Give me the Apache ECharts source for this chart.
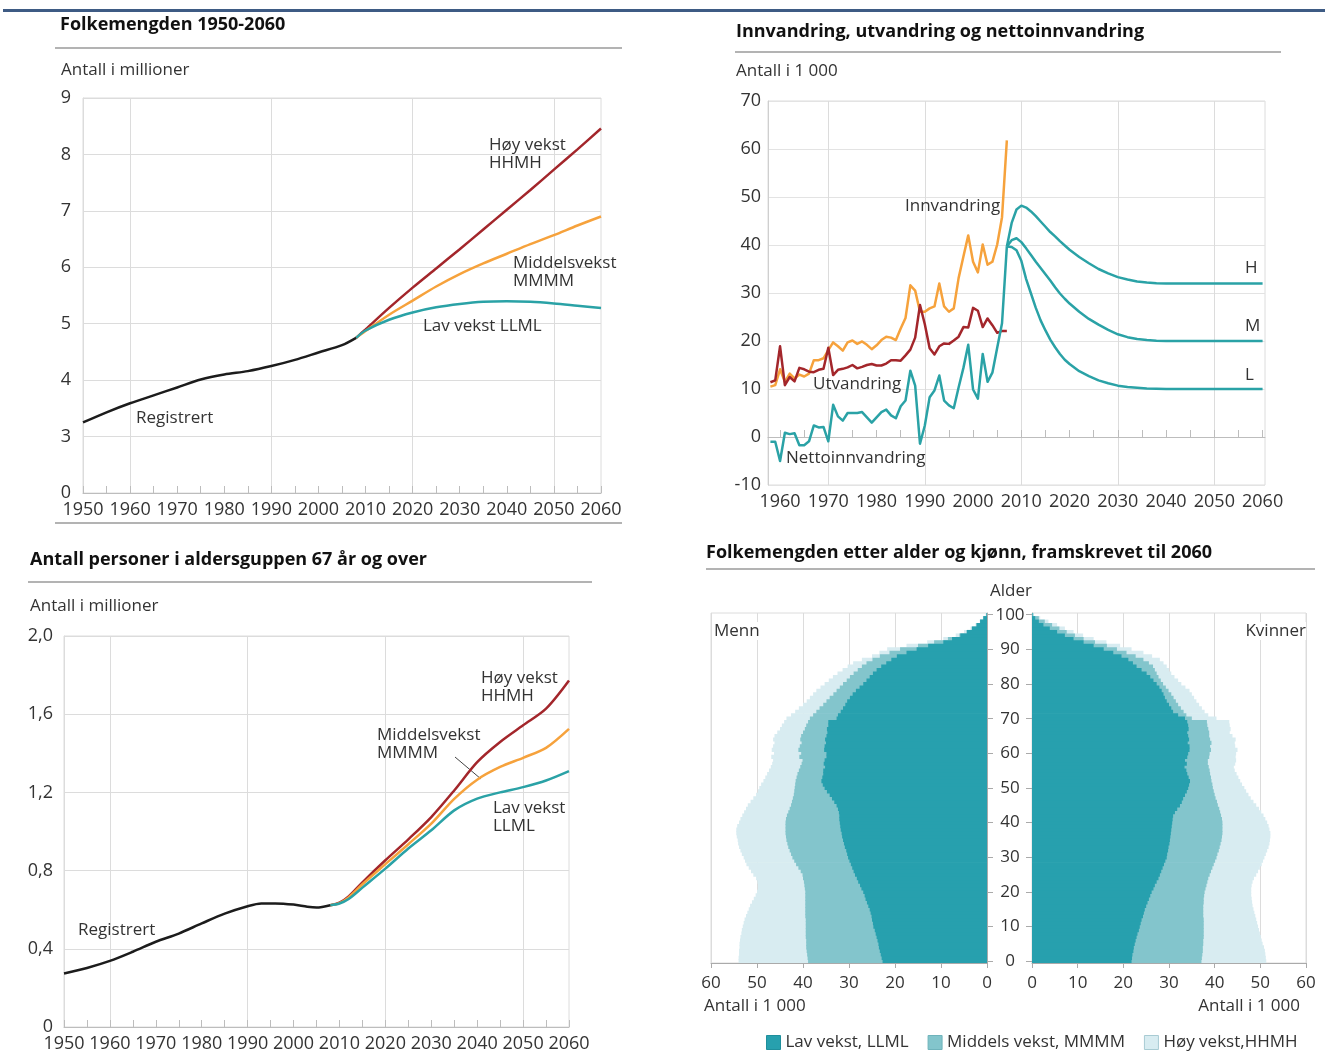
<!DOCTYPE html>
<html>
<head>
<meta charset="utf-8">
<title>Folkemengden</title>
<script src="https://cdn.jsdelivr.net/npm/echarts@6/dist/echarts.min.js"></script>
<style>
  html, body { margin: 0; padding: 0; background: #fff; }
  #chart { width: 1325px; height: 1059px; }
</style>
</head>
<body>
<div id="chart"></div>
<script>
// ---- Folkemengden 1950-2060 (millioner) ----
const popRegYears = [1950, 1955, 1960, 1965, 1970, 1975, 1980, 1985, 1990, 1995, 2000, 2005, 2008]
const popReg = [3.25, 3.43, 3.59, 3.73, 3.87, 4.01, 4.10, 4.16, 4.25, 4.36, 4.49, 4.62, 4.75]
const popProjYears = [2008, 2010, 2015, 2020, 2025, 2030, 2035, 2040, 2045, 2050, 2055, 2060]
const popHigh = [4.75, 4.90, 5.28, 5.64, 5.98, 6.32, 6.67, 7.02, 7.37, 7.73, 8.09, 8.46]
const popMid = [4.75, 4.87, 5.16, 5.41, 5.66, 5.88, 6.07, 6.24, 6.41, 6.57, 6.74, 6.90]
const popLow = [4.75, 4.88, 5.07, 5.20, 5.29, 5.35, 5.39, 5.40, 5.39, 5.36, 5.32, 5.28]

// ---- Innvandring, utvandring og nettoinnvandring (1 000) ----
const migYears = [
  1958, 1959, 1960, 1961, 1962, 1963, 1964, 1965, 1966, 1967,
  1968, 1969, 1970, 1971, 1972, 1973, 1974, 1975, 1976, 1977,
  1978, 1979, 1980, 1981, 1982, 1983, 1984, 1985, 1986, 1987,
  1988, 1989, 1990, 1991, 1992, 1993, 1994, 1995, 1996, 1997,
  1998, 1999, 2000, 2001, 2002, 2003, 2004, 2005, 2006, 2007
]
const innvandring = [
  10.5, 10.8, 14.1, 11.5, 13.2, 12.2, 13.0, 12.6, 13.2, 16.0,
  16.0, 16.4, 18.1, 19.7, 18.9, 18.0, 19.7, 20.1, 19.4, 19.9,
  19.2, 18.3, 19.1, 20.2, 20.9, 20.7, 20.2, 22.6, 24.8, 31.6,
  30.5, 26.1, 26.1, 26.8, 27.2, 32.0, 27.2, 26.1, 26.8, 33.1,
  37.6, 42.0, 36.5, 34.3, 40.1, 35.9, 36.5, 40.1, 45.8, 61.8
]
const utvandring = [
  11.4, 11.8, 18.9, 10.8, 12.5, 11.6, 14.4, 14.1, 13.6, 13.5,
  14.0, 14.2, 18.6, 12.9, 14.0, 14.2, 14.5, 15.0, 14.3, 14.6,
  15.0, 15.2, 14.9, 14.9, 15.3, 16.0, 16.0, 15.9, 17.0, 18.2,
  20.7, 27.5, 23.5, 18.5, 17.2, 18.9, 19.5, 19.4, 20.1, 20.9,
  22.9, 22.8, 26.9, 26.3, 22.9, 24.7, 23.3, 21.7, 22.1, 22.1
]
const netto = [
  -1.0, -1.0, -5.0, 0.9, 0.6, 0.8, -1.7, -1.7, -0.9, 2.4,
  2.0, 2.1, -0.9, 6.7, 4.3, 3.4, 5.0, 5.0, 5.0, 5.2,
  4.1, 3.0, 4.1, 5.2, 5.7, 4.5, 3.9, 6.4, 7.6, 13.8,
  10.7, -1.4, 2.4, 8.3, 9.7, 12.8, 7.6, 6.6, 6.0, 10.3,
  14.4, 19.2, 9.9, 8.0, 17.3, 11.5, 13.4, 18.6, 23.7, 39.7
]
const nettoProjYears = [2007, 2008, 2009, 2010, 2011, 2012, 2013, 2014, 2015, 2016, 2017, 2018, 2019,
  2020, 2022, 2024, 2026, 2028, 2030, 2032, 2034, 2036, 2038, 2040, 2050, 2060]
const nettoH = [39.7, 44.6, 47.4, 48.2, 47.8, 47.0, 46.0, 44.9, 43.8, 42.7, 41.8, 40.8, 39.9,
  39.0, 37.5, 36.2, 35.0, 34.1, 33.3, 32.8, 32.4, 32.2, 32.05, 32.0, 32.0, 32.0]
const nettoM = [39.7, 41.0, 41.4, 40.6, 39.3, 37.9, 36.5, 35.2, 33.9, 32.6, 31.2, 29.9, 28.8,
  27.8, 26.1, 24.6, 23.4, 22.3, 21.4, 20.8, 20.4, 20.2, 20.05, 20.0, 20.0, 20.0]
const nettoL = [39.7, 39.6, 38.9, 36.7, 32.9, 29.9, 26.9, 24.3, 22.2, 20.3, 18.7, 17.3, 16.1,
  15.2, 13.7, 12.7, 11.8, 11.2, 10.7, 10.4, 10.25, 10.1, 10.05, 10.0, 10.0, 10.0]

// ---- 67 år og over (millioner) ----
const oldRegYears = [1950, 1955, 1960, 1965, 1970, 1975, 1980, 1985, 1990, 1993, 1996, 2000, 2003, 2005, 2008]
const oldReg = [0.274, 0.302, 0.338, 0.385, 0.436, 0.478, 0.530, 0.580, 0.618, 0.632, 0.632, 0.626, 0.615, 0.611, 0.623]
const oldProjYears = [2008, 2010, 2012, 2015, 2020, 2025, 2030, 2035, 2040, 2045, 2050, 2055, 2060]
const oldHigh = [0.623, 0.636, 0.668, 0.740, 0.853, 0.960, 1.074, 1.210, 1.355, 1.458, 1.543, 1.628, 1.772]
const oldMid = [0.623, 0.634, 0.663, 0.730, 0.833, 0.935, 1.040, 1.167, 1.265, 1.330, 1.377, 1.428, 1.525]
const oldLow = [0.623, 0.632, 0.655, 0.713, 0.810, 0.913, 1.006, 1.108, 1.168, 1.200, 1.227, 1.261, 1.309]

// ---- Folkemengden etter alder og kjønn 2060 (1 000), alder 0-100 ----
const ages = Array.from({ length: 101 }, (_, i) => String(i))
const menLow = [
  22.7, 22.9, 23.1, 23.3, 23.5, 23.6, 23.8, 24.0, 24.2, 24.4,
  24.7, 24.8, 25.0, 25.1, 25.3, 25.5, 25.8, 26.1, 26.4, 26.6,
  26.9, 27.3, 27.6, 28.0, 28.3, 28.7, 29.0, 29.3, 29.6, 29.9,
  30.2, 30.4, 30.6, 30.9, 31.1, 31.3, 31.5, 31.6, 31.8, 31.9,
  32.0, 32.1, 32.1, 32.2, 32.4, 32.7, 33.2, 33.7, 34.2, 34.8,
  35.3, 35.7, 36.0, 35.8, 35.6, 35.6, 35.2, 35.5, 35.3, 34.9,
  34.9, 35.4, 35.3, 35.0, 35.2, 34.9, 34.7, 34.8, 34.5, 34.5,
  32.7, 32.4, 31.8, 31.3, 30.8, 30.4, 29.8, 29.2, 28.5, 27.7,
  26.9, 26.2, 25.5, 24.8, 24.0, 23.0, 21.9, 20.8, 19.6, 17.5,
  15.3, 12.8, 9.5, 7.6, 5.8, 4.4, 3.3, 2.3, 1.5, 0.8,
  0.1
]
const menMid = [
  38.9, 39.0, 39.1, 39.2, 39.3, 39.3, 39.3, 39.4, 39.4, 39.4,
  39.4, 39.4, 39.4, 39.5, 39.5, 39.5, 39.5, 39.5, 39.5, 39.5,
  39.5, 39.6, 39.7, 39.8, 40.0, 40.1, 40.5, 41.0, 41.5, 41.9,
  42.3, 42.6, 42.9, 43.2, 43.4, 43.6, 43.7, 43.8, 43.8, 43.8,
  43.8, 43.7, 43.5, 43.2, 42.9, 42.6, 42.4, 42.2, 42.0, 41.9,
  41.8, 41.7, 41.6, 41.4, 41.2, 40.9, 40.6, 40.3, 40.1, 40.8,
  40.4, 41.0, 40.7, 40.3, 40.6, 40.4, 40.0, 39.6, 39.3, 38.9,
  38.5, 37.8, 37.1, 36.4, 35.6, 34.9, 34.2, 33.4, 32.7, 32.0,
  31.3, 30.5, 29.8, 29.0, 28.1, 27.2, 26.2, 24.9, 23.3, 21.2,
  18.9, 15.0, 11.5, 8.5, 6.0, 4.4, 3.2, 2.2, 1.5, 0.8,
  0.2
]
const menHigh = [
  54.0, 54.0, 53.9, 53.9, 53.8, 53.8, 53.7, 53.6, 53.4, 53.3,
  53.1, 52.9, 52.7, 52.4, 52.1, 51.8, 51.5, 51.1, 50.7, 50.3,
  50.0, 49.8, 49.8, 49.9, 50.2, 50.8, 51.3, 51.8, 52.3, 52.6,
  52.9, 53.3, 53.6, 53.9, 54.1, 54.2, 54.4, 54.5, 54.5, 54.3,
  53.9, 53.6, 53.2, 52.8, 52.4, 52.0, 51.4, 50.8, 50.2, 49.8,
  49.5, 49.1, 48.6, 48.2, 47.8, 47.4, 47.0, 46.7, 46.5, 46.9,
  46.3, 46.8, 46.5, 46.2, 46.5, 46.2, 45.6, 45.0, 44.6, 44.1,
  43.6, 42.6, 41.7, 40.9, 40.0, 39.2, 38.5, 37.8, 37.1, 36.2,
  35.3, 34.4, 33.5, 32.5, 31.4, 30.3, 29.1, 27.2, 25.0, 23.4,
  21.7, 17.5, 13.0, 9.5, 6.8, 5.0, 3.6, 2.5, 1.6, 0.9,
  0.3
]
const womenLow = [
  21.8, 21.9, 22.0, 22.2, 22.3, 22.5, 22.7, 22.9, 23.1, 23.4,
  23.6, 23.8, 24.0, 24.3, 24.5, 24.7, 25.0, 25.3, 25.6, 25.9,
  26.2, 26.6, 26.9, 27.3, 27.7, 28.0, 28.3, 28.6, 28.9, 29.2,
  29.5, 29.6, 29.8, 29.9, 30.1, 30.2, 30.3, 30.4, 30.5, 30.6,
  30.7, 30.8, 30.9, 31.3, 31.8, 32.4, 32.8, 33.1, 33.5, 33.9,
  34.2, 34.4, 34.6, 34.3, 34.0, 33.8, 33.4, 33.9, 33.5, 34.0,
  34.2, 34.5, 34.5, 34.1, 34.4, 34.2, 34.0, 34.3, 34.2, 34.0,
  33.5, 32.0, 30.9, 30.5, 30.0, 29.5, 29.1, 28.8, 28.4, 27.9,
  27.3, 26.6, 25.9, 25.1, 24.0, 22.9, 22.1, 21.1, 19.6, 17.8,
  15.7, 13.5, 11.3, 9.1, 7.2, 5.5, 3.9, 2.5, 1.5, 0.7,
  0.1
]
const womenMid = [
  37.1, 37.2, 37.3, 37.4, 37.4, 37.5, 37.5, 37.6, 37.6, 37.6,
  37.6, 37.6, 37.6, 37.5, 37.5, 37.5, 37.5, 37.6, 37.6, 37.7,
  37.8, 38.0, 38.2, 38.4, 38.6, 38.9, 39.2, 39.5, 39.8, 40.1,
  40.4, 40.6, 40.9, 41.1, 41.3, 41.5, 41.6, 41.7, 41.7, 41.7,
  41.7, 41.6, 41.4, 41.2, 41.0, 40.7, 40.5, 40.2, 40.0, 39.8,
  39.6, 39.5, 39.3, 39.2, 39.0, 38.9, 38.7, 38.5, 38.5, 38.8,
  38.9, 39.2, 39.0, 39.3, 39.0, 38.8, 38.8, 38.6, 38.4, 38.3,
  35.0, 33.8, 33.2, 32.6, 32.0, 31.5, 31.0, 30.5, 29.9, 29.3,
  28.7, 28.2, 27.7, 27.3, 26.9, 26.5, 25.6, 24.4, 22.7, 20.7,
  18.6, 16.4, 13.8, 11.3, 9.4, 7.6, 6.0, 4.4, 2.8, 1.5,
  0.3
]
const womenHigh = [
  51.3, 51.2, 51.1, 51.0, 50.8, 50.5, 50.3, 50.1, 49.9, 49.7,
  49.5, 49.3, 49.1, 48.9, 48.7, 48.5, 48.3, 48.2, 48.1, 48.0,
  48.0, 48.0, 48.1, 48.3, 48.6, 49.1, 49.5, 49.9, 50.3, 50.6,
  50.9, 51.2, 51.5, 51.8, 52.0, 52.1, 52.2, 52.2, 52.0, 51.8,
  51.5, 51.1, 50.7, 50.2, 49.7, 49.1, 48.5, 47.9, 47.4, 46.9,
  46.5, 46.0, 45.6, 45.2, 44.8, 44.4, 44.2, 44.5, 44.7, 44.6,
  44.7, 45.0, 44.5, 44.4, 44.6, 43.9, 43.3, 43.5, 43.3, 43.2,
  40.4, 38.6, 37.8, 37.2, 36.6, 36.0, 35.5, 35.0, 34.5, 33.6,
  32.7, 32.0, 31.2, 30.5, 30.0, 29.5, 28.8, 28.0, 26.3, 24.4,
  21.8, 19.3, 16.3, 13.5, 11.2, 9.1, 7.2, 5.5, 3.6, 1.8,
  0.4
]

// tick labels / tick positions
const yearTicks = [1950, 1955, 1960, 1965, 1970, 1975, 1980, 1985, 1990, 1995, 2000, 2005,
  2010, 2015, 2020, 2025, 2030, 2035, 2040, 2045, 2050, 2055, 2060]
const yearLabels = [1950, 1960, 1970, 1980, 1990, 2000, 2010, 2020, 2030, 2040, 2050, 2060]
const migTicks = [1960, 1965, 1970, 1975, 1980, 1985, 1990, 1995, 2000, 2005,
  2010, 2015, 2020, 2025, 2030, 2035, 2040, 2045, 2050, 2055, 2060]
const migLabels = [1960, 1970, 1980, 1990, 2000, 2010, 2020, 2030, 2040, 2050, 2060]

const legendNames = ['Lav vekst, LLML', 'Middels vekst, MMMM', 'Høy vekst,HHMH']

// colours
const cBlack = '#1c1c1c'
const cRed = '#a3262b'
const cOrange = '#f6a23c'
const cTeal = '#2aa2a6'
const cLow = '#27a0ae'
const cMid = '#83c5cc'
const cHigh = '#d8ecf1'
const gridGrey = '#dcdcdc'
const T = 'rgba(0,0,0,0)'
const font = 'Open Sans'

const pairs = (xs, ys) => xs.map((x, i) => [x, ys[i]])

// smooth line (registered trends and projections)
function line(name, axis, xs, ys, color, z) {
  return {
    name, type: 'line', xAxisIndex: axis, yAxisIndex: axis,
    data: pairs(xs, ys), showSymbol: false, smooth: 0.3,
    lineStyle: { color, width: 2.5 }, itemStyle: { color }, z: z || 2
  }
}

// yearly series, no smoothing
function rawLine(name, axis, xs, ys, color) {
  return {
    name, type: 'line', xAxisIndex: axis, yAxisIndex: axis,
    data: pairs(xs, ys), showSymbol: false,
    lineStyle: { color, width: 2.5, join: 'round' }, itemStyle: { color }
  }
}

// overlapping pyramid bars; a bit wider than the band so no seams show
function bar(name, axis, values, color) {
  return {
    name, type: 'bar', xAxisIndex: axis, yAxisIndex: axis,
    data: values, barGap: '-100%', barWidth: 4.2,
    itemStyle: { color }
  }
}

function text(str, x, y, extra) {
  return {
    type: 'text', x, y, silent: true, z: 100,
    style: Object.assign({
      text: str, fill: '#333', fontSize: 17, fontFamily: font,
      align: 'left', verticalAlign: 'middle', lineHeight: 18
    }, extra || {})
  }
}

function title(str, x, y) {
  return text(str, x, y, { fill: '#111', fontSize: 18, fontWeight: 'bold' })
}

function rule(x1, y1, x2) {
  return { type: 'line', silent: true, shape: { x1, y1, x2, y2: y1 }, style: { stroke: '#9a9a9a', lineWidth: 1.5 } }
}

// year axis used by the line panels
function yearAxis(grid, min, max, ticks, labels, colors) {
  return {
    gridIndex: grid, type: 'value', min, max,
    axisLine: { show: true, lineStyle: { color: '#bdbdbd' } },
    axisTick: { show: true, inside: true, length: 7, customValues: ticks, lineStyle: { color: '#bdbdbd' } },
    axisLabel: { customValues: labels, fontSize: 18, color: '#333', margin: 8, formatter: v => String(v) },
    splitLine: { show: true, lineStyle: { color: colors, width: 1 } }
  }
}

const ageTickEvery10 = (i) => i % 10 === 0

const gridBase = { show: true, borderColor: gridGrey, borderWidth: 1, containLabel: false, outerBoundsMode: 'none' }

const chart = echarts.init(document.getElementById('chart'), null, { renderer: 'canvas' })

chart.setOption({
  animation: false,
  backgroundColor: '#fff',
  textStyle: { fontFamily: font },
  grid: [
    Object.assign({ left: 83, top: 98, width: 518, height: 395 }, gridBase),
    Object.assign({ left: 768, top: 101, width: 497, height: 384 }, gridBase),
    Object.assign({ left: 64, top: 636, width: 505, height: 391 }, gridBase),
    Object.assign({ left: 711, top: 613, width: 276, height: 350 }, gridBase),
    Object.assign({ left: 1032, top: 613, width: 274, height: 350 }, gridBase)
  ],
  xAxis: [
    yearAxis(0, 1950, 2060, yearTicks, yearLabels, [T, T, gridGrey, T, T, T]),
    yearAxis(1, 1957.5, 2060.5, migTicks, migLabels, [T, T, gridGrey, T]),
    yearAxis(2, 1950, 2060, yearTicks, yearLabels, [T, T, gridGrey, T, T, T]),
    {
      gridIndex: 3, type: 'value', inverse: true, min: 0, max: 60, interval: 10,
      axisLine: { show: true, lineStyle: { color: '#aaa' } },
      axisTick: { show: true, length: 5, lineStyle: { color: '#aaa' } },
      axisLabel: { fontSize: 17, color: '#333', margin: 12 },
      splitLine: { show: true, lineStyle: { color: gridGrey } }
    },
    {
      gridIndex: 4, type: 'value', min: 0, max: 60, interval: 10,
      axisLine: { show: true, lineStyle: { color: '#aaa' } },
      axisTick: { show: true, length: 5, lineStyle: { color: '#aaa' } },
      axisLabel: { fontSize: 17, color: '#333', margin: 12 },
      splitLine: { show: true, lineStyle: { color: gridGrey } }
    }
  ],
  yAxis: [
    {
      gridIndex: 0, type: 'value', min: 2, max: 9, interval: 1,
      axisLine: { show: true, lineStyle: { color: gridGrey } },
      axisTick: { show: false },
      axisLabel: { fontSize: 18, color: '#333', margin: 12, formatter: v => (v === 2 ? '0' : String(v)) },
      splitLine: { lineStyle: { color: gridGrey } }
    },
    {
      gridIndex: 1, type: 'value', min: -10, max: 70, interval: 10,
      axisLine: { show: true, lineStyle: { color: '#cfcfcf' } },
      axisTick: { show: false },
      axisLabel: { fontSize: 18, color: '#333', margin: 7 },
      splitLine: { lineStyle: { color: '#e3e3e3' } }
    },
    {
      gridIndex: 2, type: 'value', min: 0, max: 2, interval: 0.4,
      axisLine: { show: true, lineStyle: { color: gridGrey } },
      axisTick: { show: false },
      axisLabel: { fontSize: 18, color: '#333', margin: 11, formatter: v => (v === 0 ? '0' : v.toFixed(1).replace('.', ',')) },
      splitLine: { lineStyle: { color: gridGrey } }
    },
    {
      gridIndex: 3, type: 'category', data: ages, position: 'right',
      axisLine: { show: true, lineStyle: { color: '#aaa' } },
      axisTick: { show: true, interval: ageTickEvery10, alignWithLabel: true, length: 6, lineStyle: { color: '#aaa' } },
      axisLabel: { show: false },
      splitLine: { show: false }
    },
    {
      gridIndex: 4, type: 'category', data: ages, position: 'left',
      axisLine: { show: true, lineStyle: { color: '#aaa' } },
      axisTick: { show: true, interval: ageTickEvery10, alignWithLabel: true, length: 6, lineStyle: { color: '#aaa' } },
      axisLabel: { interval: ageTickEvery10, align: 'center', margin: 22, fontSize: 17, color: '#333' },
      splitLine: { show: false }
    }
  ],
  legend: {
    left: 761, top: 1029, itemWidth: 14, itemHeight: 14, itemGap: 19, icon: 'rect',
    textStyle: { fontSize: 17, color: '#333', fontFamily: font },
    data: [
      { name: legendNames[0], itemStyle: { color: cLow, borderColor: '#1f8f9c', borderWidth: 1 } },
      { name: legendNames[1], itemStyle: { color: cMid, borderColor: '#6fb3bb', borderWidth: 1 } },
      { name: legendNames[2], itemStyle: { color: cHigh, borderColor: '#a8cbd3', borderWidth: 1 } }
    ]
  },
  series: [
    // panel 1
    line('HHMH', 0, popProjYears, popHigh, cRed),
    line('MMMM', 0, popProjYears, popMid, cOrange),
    line('LLML', 0, popProjYears, popLow, cTeal),
    line('Registrert', 0, popRegYears, popReg, cBlack, 3),
    // panel 2
    rawLine('Innvandring', 1, migYears, innvandring, cOrange),
    rawLine('Utvandring', 1, migYears, utvandring, cRed),
    rawLine('Nettoinnvandring', 1, migYears, netto, cTeal),
    rawLine('H', 1, nettoProjYears, nettoH, cTeal),
    rawLine('M', 1, nettoProjYears, nettoM, cTeal),
    rawLine('L', 1, nettoProjYears, nettoL, cTeal),
    // panel 3
    line('HHMH 67+', 2, oldProjYears, oldHigh, cRed),
    line('MMMM 67+', 2, oldProjYears, oldMid, cOrange),
    line('LLML 67+', 2, oldProjYears, oldLow, cTeal),
    line('Registrert 67+', 2, oldRegYears, oldReg, cBlack, 3),
    // pyramid, men
    bar(legendNames[2], 3, menHigh, cHigh),
    bar(legendNames[1], 3, menMid, cMid),
    bar(legendNames[0], 3, menLow, cLow),
    // pyramid, women
    bar(legendNames[2], 4, womenHigh, cHigh),
    bar(legendNames[1], 4, womenMid, cMid),
    bar(legendNames[0], 4, womenLow, cLow)
  ],
  graphic: [
    { type: 'rect', silent: true, shape: { x: 3, y: 9, width: 1322, height: 3 }, style: { fill: '#3e5b84' } },
    // panel 1
    title('Folkemengden 1950-2060', 60, 25),
    rule(55, 48, 622),
    text('Antall i millioner', 61, 70),
    rule(55, 523, 622),
    text('Høy vekst\nHHMH', 489, 136, { verticalAlign: 'top' }),
    text('Middelsvekst\nMMMM', 513, 254, { verticalAlign: 'top' }),
    text('Lav vekst LLML', 423, 326),
    text('Registrert', 136, 418),
    // panel 2
    title('Innvandring, utvandring og nettoinnvandring', 736, 32),
    rule(735, 52, 1281),
    text('Antall i 1 000', 736, 71),
    text('Innvandring', 905, 206),
    text('Utvandring', 813, 384),
    text('Nettoinnvandring', 786, 458),
    text('H', 1245, 268),
    text('M', 1245, 326),
    text('L', 1245, 375),
    // panel 3
    title('Antall personer i aldersguppen 67 år og over', 30, 560),
    rule(28, 582, 592),
    text('Antall i millioner', 30, 606),
    text('Høy vekst\nHHMH', 481, 669, { verticalAlign: 'top' }),
    text('Middelsvekst\nMMMM', 377, 726, { verticalAlign: 'top' }),
    text('Lav vekst\nLLML', 493, 799, { verticalAlign: 'top' }),
    text('Registrert', 78, 930),
    { type: 'line', silent: true, shape: { x1: 455, y1: 757, x2: 481, y2: 779 }, style: { stroke: '#444', lineWidth: 1 } },
    // panel 4
    title('Folkemengden etter alder og kjønn, framskrevet til 2060', 706, 553),
    rule(706, 569, 1315),
    text('Alder', 1011, 591, { align: 'center' }),
    text('Menn', 714, 631, { backgroundColor: '#fff' }),
    text('Kvinner', 1306, 631, { align: 'right', backgroundColor: '#fff' }),
    text('Antall i 1 000', 704, 1006),
    text('Antall i 1 000', 1300, 1006, { align: 'right' })
  ]
})
</script>
</body>
</html>
